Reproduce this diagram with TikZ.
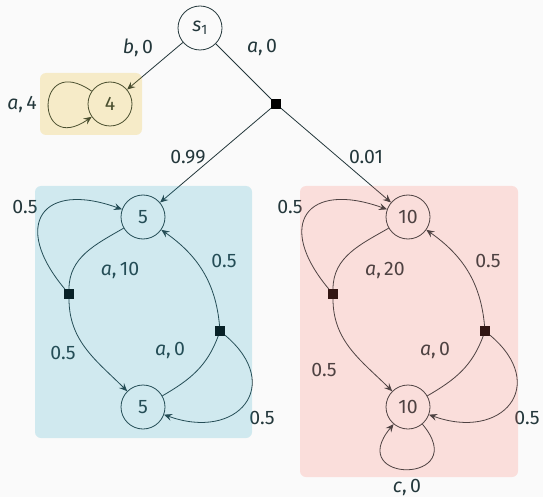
\documentclass[tikz,border=0pt]{standalone}
\usepackage{fontspec}
\setmainfont{Fira Sans}
\usetikzlibrary{arrows.meta}
\definecolor{ink}{HTML}{23373B}
\definecolor{pagebg}{HTML}{FAFAFA}
\definecolor{hlyellow}{RGB}{230,175,0}
\definecolor{hlblue}{RGB}{40,165,195}
\definecolor{hlred}{RGB}{250,110,95}
\newcommand{\act}[2]{\textit{#1},\,#2}
\begin{document}
\begin{tikzpicture}[x=1pt,y=-1pt,
  font=\fontsize{19.5}{22}\selectfont,
  every node/.style={text=ink},
  state/.style={circle,draw=ink,line width=0.8pt,minimum size=44pt,inner sep=0pt},
  choice/.style={rectangle,fill=black,minimum size=9.5pt,inner sep=0pt},
  lbl/.style={inner sep=0pt},
  edge/.style={draw=ink,line width=0.8pt},
  arr/.style={edge,-{Stealth[length=8pt,width=7pt,inset=3pt]}},
  hl/.style={rounded corners=6pt,fill opacity=0.2}]
\fill[pagebg] (0,0) rectangle (543,497);
\useasboundingbox (0,0) rectangle (543,497);

% top part
\node[state] (s1) at (200,28) {\textit{s}\textsubscript{1}};
\node[state] (n4) at (110,104) {4};
\node[choice] (c0) at (276,104) {};
\node[lbl] (l_b0) at (138,48) {\act{b}{0}};
\node[lbl] (l_a0) at (262,48) {\act{a}{0}};
\node[lbl] (l_a4) at (22,104) {\act{a}{4}};
\node[lbl] (l_099) at (188,157) {0.99};
\node[lbl] (l_001) at (366,157) {0.01};
\draw[edge] (s1) -- (c0);
\draw[arr] (s1) -- (n4);
\draw[arr] (n4) to[out=145,in=215,looseness=7] (n4);

% left component
\node[state] (t5) at (143,217) {5};
\node[state] (b5) at (143,407) {5};
\node[choice] (cl5) at (69,294) {};
\node[choice] (cr5) at (220,331) {};
\draw[arr] (c0) -- (t5);
\draw[edge] (t5) to[out=210,in=90] (cl5);
\draw[arr] (cl5) to[out=130,in=160,looseness=2.2] (t5);
\draw[arr] (cl5) to[out=270,in=135] (b5);
\draw[edge] (b5) to[out=30,in=250] (cr5);
\draw[arr] (cr5) to[out=95,in=-35] (t5);
\draw[arr] (cr5) to[out=-40,in=-20,looseness=2] (b5);
\node[lbl] (l5a) at (25,207) {0.5};
\node[lbl] (l5b) at (120,270) {\act{a}{10}};
\node[lbl] (l5c) at (224,261) {0.5};
\node[lbl] (l5d) at (170,350) {\act{a}{0}};
\node[lbl] (l5e) at (63,353) {0.5};
\node[lbl] (l5f) at (262,418) {0.5};

% right component
\node[state] (t10) at (408,217) {10};
\node[state] (b10) at (408,407) {10};
\node[choice] (cl10) at (333,294) {};
\node[choice] (cr10) at (485,331) {};
\draw[arr] (c0) -- (t10);
\draw[edge] (t10) to[out=210,in=90] (cl10);
\draw[arr] (cl10) to[out=130,in=160,looseness=2.2] (t10);
\draw[arr] (cl10) to[out=270,in=135] (b10);
\draw[edge] (b10) to[out=30,in=250] (cr10);
\draw[arr] (cr10) to[out=95,in=-35] (t10);
\draw[arr] (cr10) to[out=-40,in=-20,looseness=2] (b10);
\draw[arr] (b10) to[out=-50,in=-130,looseness=7] (b10);
\node[lbl] (l10a) at (290,207) {0.5};
\node[lbl] (l10b) at (385,270) {\act{a}{20}};
\node[lbl] (l10c) at (488,261) {0.5};
\node[lbl] (l10d) at (435,350) {\act{a}{0}};
\node[lbl] (l10e) at (324,370) {0.5};
\node[lbl] (l10f) at (527,418) {0.5};
\node[lbl] (l10g) at (407,487) {\act{c}{0}};

% highlighted regions
\fill[hl,hlyellow] (40,73) rectangle (142,135);
\fill[hl,hlblue] (35,186) rectangle (252,438);
\fill[hl,hlred] (300,186) rectangle (518,477);
\end{tikzpicture}
\end{document}
